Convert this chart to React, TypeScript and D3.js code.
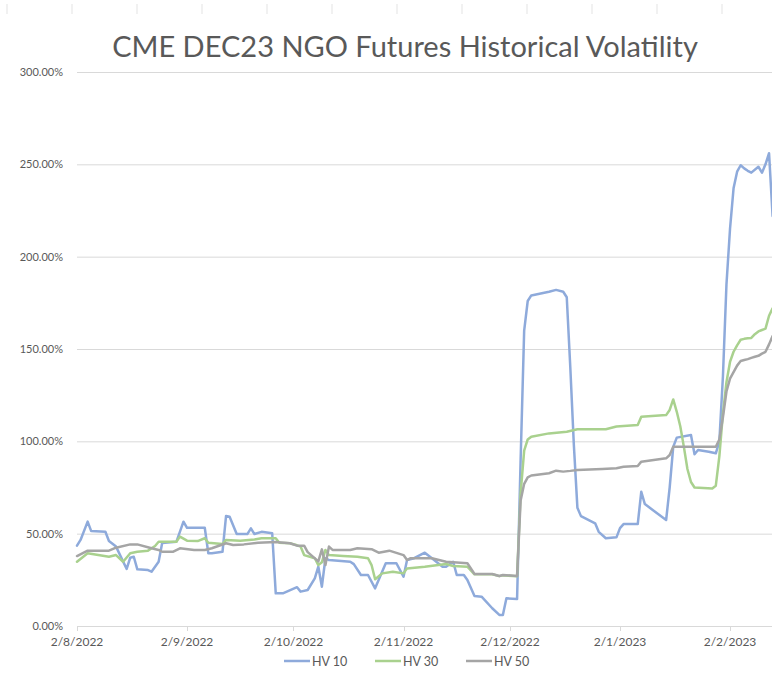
import * as d3 from "d3";

const WIDTH = 772;
const HEIGHT = 680;

const TITLE = "CME DEC23 NGO Futures Historical Volatility";
const SERIES_NAMES = ["HV 10", "HV 30", "HV 50"];
const SERIES_COLORS = ["#8eaadb", "#a9d18e", "#a5a5a5"];
const Y_TICKS = [0, 50, 100, 150, 200, 250, 300];

// [date, volatility %]
const hv10: [string, number][] = [
  ["2022-08-02", 43.5], ["2022-08-03", 46.6], ["2022-08-05", 56.5], ["2022-08-06", 51.4],
  ["2022-08-10", 51], ["2022-08-11", 46], ["2022-08-13", 43], ["2022-08-16", 30.9],
  ["2022-08-17", 37], ["2022-08-18", 37.5], ["2022-08-19", 30.7], ["2022-08-22", 30.3],
  ["2022-08-23", 29.4], ["2022-08-25", 34.8], ["2022-08-26", 45], ["2022-08-30", 45.6],
  ["2022-09-01", 56.5], ["2022-09-02", 53.2], ["2022-09-07", 53.2], ["2022-09-08", 39.4],
  ["2022-09-09", 39.4], ["2022-09-12", 40.2], ["2022-09-13", 59.6], ["2022-09-14", 59.2],
  ["2022-09-16", 49.8], ["2022-09-19", 49.8], ["2022-09-20", 52.9], ["2022-09-21", 49.8],
  ["2022-09-23", 51], ["2022-09-26", 50.2], ["2022-09-27", 17.7], ["2022-09-29", 17.7],
  ["2022-10-03", 21], ["2022-10-04", 18.6], ["2022-10-06", 19.5], ["2022-10-08", 25.8],
  ["2022-10-09", 32.1], ["2022-10-10", 21.3], ["2022-10-11", 36.7], ["2022-10-12", 35.7],
  ["2022-10-18", 34.8], ["2022-10-19", 33.5], ["2022-10-21", 27.6], ["2022-10-23", 27.6],
  ["2022-10-25", 20.4], ["2022-10-28", 34], ["2022-10-31", 34], ["2022-11-02", 26.7],
  ["2022-11-03", 35.7], ["2022-11-05", 36.7], ["2022-11-08", 39.7], ["2022-11-10", 36.7],
  ["2022-11-13", 32.1], ["2022-11-14", 32.1], ["2022-11-16", 34.8], ["2022-11-17", 27.6],
  ["2022-11-19", 27.6], ["2022-11-20", 24.9], ["2022-11-22", 16.2], ["2022-11-24", 15.9],
  ["2022-11-27", 9.6], ["2022-11-29", 6], ["2022-11-30", 6], ["2022-12-01", 15],
  ["2022-12-04", 14.6], ["2022-12-05", 90], ["2022-12-06", 160], ["2022-12-07", 176],
  ["2022-12-08", 179], ["2022-12-13", 181], ["2022-12-15", 182], ["2022-12-17", 181],
  ["2022-12-18", 178], ["2022-12-19", 140], ["2022-12-20", 98], ["2022-12-21", 64],
  ["2022-12-22", 59.5], ["2022-12-26", 55.6], ["2022-12-27", 51], ["2022-12-29", 47.5],
  ["2023-01-01", 48], ["2023-01-02", 53], ["2023-01-03", 55.2], ["2023-01-07", 55.2],
  ["2023-01-08", 72.7], ["2023-01-09", 66], ["2023-01-15", 57.4], ["2023-01-16", 75],
  ["2023-01-17", 97], ["2023-01-18", 102], ["2023-01-22", 103.4], ["2023-01-23", 93],
  ["2023-01-24", 95.3], ["2023-01-27", 94.4], ["2023-01-29", 93.5], ["2023-01-30", 100],
  ["2023-01-31", 135], ["2023-02-01", 185], ["2023-02-02", 215], ["2023-02-03", 237],
  ["2023-02-04", 246], ["2023-02-05", 249.5], ["2023-02-06", 247.8], ["2023-02-07", 246.5],
  ["2023-02-08", 245.5], ["2023-02-10", 248.7], ["2023-02-11", 245.5], ["2023-02-12", 250],
  ["2023-02-13", 256], ["2023-02-14", 222],
];

const hv30: [string, number][] = [
  ["2022-08-02", 34.8], ["2022-08-05", 39.4], ["2022-08-08", 38.4], ["2022-08-11", 37.5],
  ["2022-08-13", 38.4], ["2022-08-15", 34.8], ["2022-08-17", 39.4], ["2022-08-19", 40.2],
  ["2022-08-22", 40.8], ["2022-08-24", 43.3], ["2022-08-25", 45.6], ["2022-08-30", 45.6],
  ["2022-08-31", 48.4], ["2022-09-02", 46.2], ["2022-09-05", 46], ["2022-09-07", 47.5],
  ["2022-09-08", 45.1], ["2022-09-12", 44.4], ["2022-09-13", 46.6], ["2022-09-17", 46.2],
  ["2022-09-21", 46.9], ["2022-09-23", 47.5], ["2022-09-27", 47.5], ["2022-09-28", 45.1],
  ["2022-10-01", 44.8], ["2022-10-03", 43.7], ["2022-10-04", 43], ["2022-10-05", 38.4],
  ["2022-10-08", 36.7], ["2022-10-09", 33], ["2022-10-10", 34.5], ["2022-10-11", 41.2],
  ["2022-10-12", 38.4], ["2022-10-16", 37.9], ["2022-10-20", 37.5], ["2022-10-23", 36.7],
  ["2022-10-24", 33], ["2022-10-25", 25.3], ["2022-10-27", 28.5], ["2022-10-30", 29.4],
  ["2022-11-02", 28.5], ["2022-11-03", 31.2], ["2022-11-08", 32.1], ["2022-11-14", 33.6],
  ["2022-11-16", 32.5], ["2022-11-20", 32.1], ["2022-11-22", 28], ["2022-11-27", 28],
  ["2022-11-29", 27], ["2022-11-30", 27.4], ["2022-12-04", 27], ["2022-12-05", 72],
  ["2022-12-06", 95], ["2022-12-07", 101], ["2022-12-08", 102.5], ["2022-12-13", 104.3],
  ["2022-12-18", 105.2], ["2022-12-21", 106.5], ["2022-12-29", 106.5], ["2023-01-01", 108],
  ["2023-01-07", 108.8], ["2023-01-08", 113.3], ["2023-01-15", 114.2], ["2023-01-16", 117],
  ["2023-01-17", 122.7], ["2023-01-18", 116], ["2023-01-19", 108], ["2023-01-20", 97],
  ["2023-01-21", 85], ["2023-01-22", 78], ["2023-01-23", 75], ["2023-01-28", 74.5],
  ["2023-01-29", 76], ["2023-01-30", 92], ["2023-01-31", 115], ["2023-02-01", 132],
  ["2023-02-02", 143], ["2023-02-03", 148.5], ["2023-02-04", 152], ["2023-02-05", 155],
  ["2023-02-06", 155.5], ["2023-02-07", 155.8], ["2023-02-08", 156], ["2023-02-09", 158],
  ["2023-02-10", 159.5], ["2023-02-11", 160.3], ["2023-02-12", 161], ["2023-02-13", 168],
  ["2023-02-14", 172],
];

const hv50: [string, number][] = [
  ["2022-08-02", 37.9], ["2022-08-05", 40.8], ["2022-08-11", 40.8], ["2022-08-13", 42.4],
  ["2022-08-17", 44.2], ["2022-08-19", 44.2], ["2022-08-23", 42.1], ["2022-08-25", 41.2],
  ["2022-08-26", 40.2], ["2022-08-29", 40.2], ["2022-08-31", 42.1], ["2022-09-04", 41.2],
  ["2022-09-07", 41.2], ["2022-09-09", 42.1], ["2022-09-13", 44.8], ["2022-09-15", 43.9],
  ["2022-09-18", 44.2], ["2022-09-22", 45.1], ["2022-09-27", 45.5], ["2022-10-01", 44.8],
  ["2022-10-03", 43.5], ["2022-10-05", 43.5], ["2022-10-06", 40], ["2022-10-09", 35],
  ["2022-10-10", 41.5], ["2022-10-11", 33], ["2022-10-12", 43], ["2022-10-13", 41.2],
  ["2022-10-18", 41.2], ["2022-10-20", 42.1], ["2022-10-24", 41.6], ["2022-10-26", 39.7],
  ["2022-10-29", 40.8], ["2022-11-02", 38.4], ["2022-11-03", 35.7], ["2022-11-04", 36.7],
  ["2022-11-10", 36.7], ["2022-11-14", 34.8], ["2022-11-18", 34.3], ["2022-11-20", 34],
  ["2022-11-22", 28.2], ["2022-11-27", 28.2], ["2022-11-29", 27.1], ["2022-11-30", 27.6],
  ["2022-12-04", 27.1], ["2022-12-05", 68], ["2022-12-06", 77], ["2022-12-07", 80.5],
  ["2022-12-08", 81.5], ["2022-12-13", 82.7], ["2022-12-15", 84.1], ["2022-12-17", 83.6],
  ["2022-12-19", 84], ["2022-12-21", 84.5], ["2022-12-28", 85], ["2023-01-01", 85.4],
  ["2023-01-03", 86.2], ["2023-01-07", 86.6], ["2023-01-08", 89], ["2023-01-15", 90.8],
  ["2023-01-16", 92.6], ["2023-01-17", 97.1], ["2023-01-29", 97.1], ["2023-01-30", 101],
  ["2023-01-31", 113], ["2023-02-01", 127], ["2023-02-02", 134], ["2023-02-03", 137.5],
  ["2023-02-04", 141], ["2023-02-05", 143.5], ["2023-02-06", 144], ["2023-02-07", 144.5],
  ["2023-02-08", 145.2], ["2023-02-09", 145.8], ["2023-02-10", 146.3], ["2023-02-11", 147.5],
  ["2023-02-12", 148.5], ["2023-02-13", 152.5], ["2023-02-14", 157],
];

const SERIES = [hv10, hv30, hv50];

const parseDate = d3.timeParse("%Y-%m-%d");
const formatDate = d3.timeFormat("%-d/%-m/%Y");

const margin = { top: 72, right: 0, bottom: 54, left: 77 };
const FONT = "Lato, 'Open Sans', sans-serif";
const TEXT_COLOR = "#595959";
const GRID_COLOR = "#d9d9d9";

export default function App() {
  const start = parseDate("2022-08-02")!;
  const end = parseDate("2023-02-14")!;

  const x = d3.scaleTime().domain([start, end]).range([margin.left, WIDTH + 0.6]);
  const y = d3.scaleLinear().domain([0, 300]).range([HEIGHT - margin.bottom, margin.top]);

  // month ticks fall on the 2nd of each month
  const xTicks = d3.timeMonth.range(d3.timeMonth.floor(start), end).map((m) => d3.timeDay.offset(m, 1));

  const lineGen = d3
    .line<[string, number]>()
    .x((d) => x(parseDate(d[0])!))
    .y((d) => y(d[1]));

  const legendX = d3.scaleLinear().domain([0, 1]).range([284, 375]);
  const topMarks = d3.range(7, WIDTH, 65);

  return (
    <svg
      width={WIDTH}
      height={HEIGHT}
      style={{ position: "absolute", left: 0, top: 0, background: "#fff" }}
      fontFamily={FONT}
    >
      <defs>
        <clipPath id="plot-clip">
          <rect x={margin.left - 2} y={0} width={WIDTH} height={HEIGHT - margin.bottom + 2} />
        </clipPath>
      </defs>

      {topMarks.map((mx) => (
        <line key={mx} x1={mx} x2={mx} y1={4} y2={14} stroke="#e3e3e3" strokeWidth={1} />
      ))}

      <text x={405} y={57} textAnchor="middle" fontSize={29} fill={TEXT_COLOR}>
        {TITLE}
      </text>

      {Y_TICKS.map((t) => (
        <g key={t}>
          <line x1={margin.left} x2={WIDTH} y1={y(t) + 0.5} y2={y(t) + 0.5} stroke={GRID_COLOR} strokeWidth={1} />
          <text x={63} y={y(t) + 4} textAnchor="end" fontSize={11} fill={TEXT_COLOR}>
            {t.toFixed(2)}%
          </text>
        </g>
      ))}

      {xTicks.map((t) => (
        <g key={t.getTime()}>
          <line x1={Math.round(x(t)) + 0.5} x2={Math.round(x(t)) + 0.5} y1={y(0)} y2={y(0) + 5} stroke={GRID_COLOR} />
          <text x={x(t)} y={y(0) + 20} textAnchor="middle" fontSize={12} fill={TEXT_COLOR}>
            {formatDate(t)}
          </text>
        </g>
      ))}

      <g clipPath="url(#plot-clip)">
        {SERIES.map((s, i) => (
          <path
            key={SERIES_NAMES[i]}
            d={lineGen(s) ?? ""}
            fill="none"
            stroke={SERIES_COLORS[i]}
            strokeWidth={2.5}
            strokeLinejoin="round"
            strokeLinecap="round"
          />
        ))}
      </g>

      {SERIES_NAMES.map((name, i) => (
        <g key={name} transform={`translate(${legendX(i)},661)`}>
          <line x1={0} x2={26} y1={0} y2={0} stroke={SERIES_COLORS[i]} strokeWidth={2.5} />
          <text x={28} y={4.5} fontSize={12.5} fill={TEXT_COLOR}>
            {name}
          </text>
        </g>
      ))}
    </svg>
  );
}
